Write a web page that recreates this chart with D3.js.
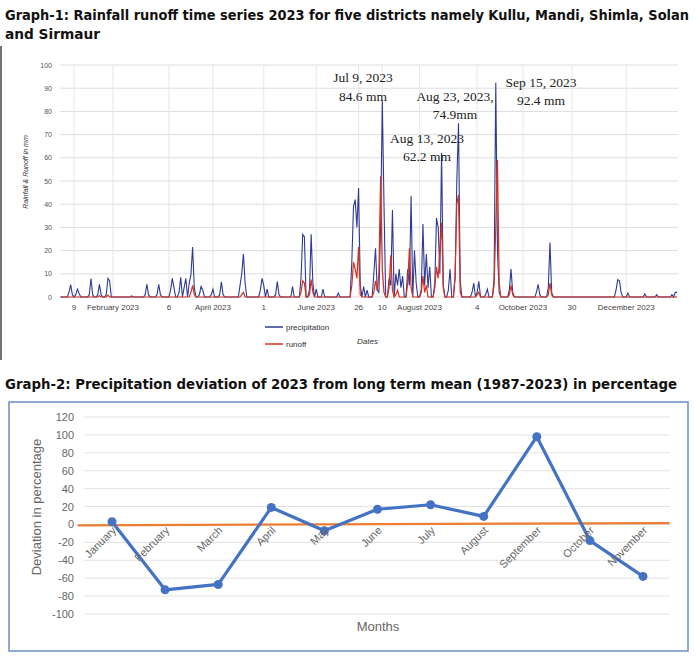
<!DOCTYPE html>
<html><head><meta charset="utf-8">
<script src="https://cdn.jsdelivr.net/npm/d3@7"></script>
<style>body{margin:0;background:#fff}svg{display:block}</style>
</head><body><svg id="c" width="697" height="659"></svg>
<script>
// ---------- Graph 1 data (day of year index 0 = Jan 1 2023; unlisted days = 0) ----------
const precipDays   = [5,6,7,9,10,11,17,18,19,22,23,24,27,28,29,42,50,51,52,57,58,59,65,66,67,70,71,73,74,76,77,78,79,82,83,84,89,90,94,95,96,106,107,108,109,118,119,120,122,127,128,129,137,142,143,144,147,148,149,151,155,164,172,173,174,175,176,177,179,181,185,186,187,188,189,190,191,194,195,196,198,199,200,201,202,205,206,207,209,210,213,214,215,216,217,218,221,222,223,224,225,226,229,230,233,234,235,236,243,244,246,247,251,252,256,257,258,259,265,266,267,281,282,283,288,289,290,328,329,330,331,335,345,352,361,363,364];
const precipVals   = [2,5.3,1,1,3.4,1.5,1,8,1,1,5.5,1,1,8,7,0.5,1,5.5,1,1,5.5,1,3,8,4,2,8.5,4,8,6,9.5,21.5,4,1,4.5,3,1,3.4,1,6.5,1,5,10,18.5,6,3,8,5,3.4,1,6.7,1,4.5,8,27,26,3,27,6,3.4,3.4,1.7,15,39,42,30,47,5,4.5,3,10,21,3,2,30,84.6,40,8,5,37.5,10,5,12,4,9,12,5,43.5,20,6,3,31.5,5,18.5,4,13,6,34,30,10,62.2,5,3,12,8,50,74.9,7,2,6,2,6.7,1,3.4,8,92.4,20,2,3,12,2,2,5.5,1,4,23.5,2,3,7.5,7,2,1.7,1.3,1,1,2,2];
const runoffDays   = [23,28,77,78,79,107,108,142,143,144,147,148,149,172,173,174,175,176,177,185,186,187,188,189,190,191,194,195,196,198,199,205,206,207,213,214,215,216,221,222,223,224,225,226,233,234,235,236,246,247,256,257,258,259,265,266,267,288,289,290];
const runoffVals   = [0.5,0.8,2,5,1,1,2,2,7,6,1,7.5,2,5,15,12,8,21.5,1,2,7,3,10,52,12,2,4,18,3,1,3,6,21,4,2,9,2,5,4,13,8,20,32,4,10,40,44,2,1,2,5,30,59,6,1,5,1,1,6,1];
const g1YTicks = [0,10,20,30,40,50,60,70,80,90,100];
const g1XTickDays = [8,31,64,90,120,151,176,190,212,246,273,302,334];
const g1XTickLabels = ["9","February 2023","6","April 2023","1","June 2023","26","10","August 2023","4","October 2023","30","December 2023"];
const annoDays = [189,224,234,257];
const annoDate = ["Jul 9, 2023","Aug 13, 2023","Aug 23, 2023,","Sep 15, 2023"];
const annoVal  = ["84.6 mm","62.2 mm","74.9mm","92.4 mm"];

// ---------- Graph 2 data ----------
const months = ["January","February","March","April","May","June","July","August","September","October","November"];
const deviation = [3,-73,-67,19,-7,17,22,9,98,-18,-58];
const meanLine = [-1,1.5]; // orange reference line, left & right ends
const g2YTicks = [120,100,80,60,40,20,0,-20,-40,-60,-80,-100];

const svg = d3.select("#c");

function fitText(sel, w){ sel.attr("textLength", w).attr("lengthAdjust","spacingAndGlyphs"); }

// Titles
svg.append("text").attr("x",5).attr("y",20).attr("font-family","DejaVu Sans Condensed, DejaVu Sans").attr("font-weight","bold").attr("font-size",14).attr("fill","#111")
  .text("Graph-1: Rainfall runoff time series 2023 for five districts namely Kullu, Mandi, Shimla, Solan").call(fitText,684);
svg.append("text").attr("x",5).attr("y",39).attr("font-family","DejaVu Sans Condensed, DejaVu Sans").attr("font-weight","bold").attr("font-size",14).attr("fill","#111")
  .text("and Sirmaur").call(fitText,95);
svg.append("text").attr("x",5).attr("y",389).attr("font-family","DejaVu Sans Condensed, DejaVu Sans").attr("font-weight","bold").attr("font-size",14).attr("fill","#111")
  .text("Graph-2: Precipitation deviation of 2023 from long term mean (1987-2023) in percentage").call(fitText,672);

// ---------- Graph 1 ----------
svg.append("line").attr("x1",1).attr("x2",1).attr("y1",46).attr("y2",360).attr("stroke","#444").attr("stroke-width",1.5);
const x1 = d3.scaleLinear().domain([0,364]).range([60.5,677]);
const y1 = d3.scaleLinear().domain([0,100]).range([297,65]);
const g1 = svg.append("g");
g1.append("g").selectAll("line").data(g1YTicks).join("line")
  .attr("x1",60).attr("x2",678).attr("y1",d=>y1(d)).attr("y2",d=>y1(d)).attr("stroke","#ddd");
g1.append("g").selectAll("line").data(g1XTickDays).join("line")
  .attr("x1",d=>x1(d)).attr("x2",d=>x1(d)).attr("y1",65).attr("y2",297).attr("stroke","#e6e6e6");
g1.append("g").selectAll("text").data(g1YTicks).join("text")
  .attr("x",52).attr("y",d=>y1(d)+2.5).attr("text-anchor","end").attr("font-family","Liberation Sans").attr("font-size",7).attr("fill","#555").text(d=>d);
g1.append("g").selectAll("text").data(g1XTickDays).join("text")
  .attr("x",d=>x1(d)).attr("y",310).attr("text-anchor","middle").attr("font-family","Liberation Sans").attr("font-size",8).attr("fill","#444").text((d,i)=>g1XTickLabels[i]);
g1.append("text").attr("transform","translate(28,172) rotate(-90)").attr("text-anchor","middle").attr("font-family","Liberation Sans").attr("font-style","italic").attr("font-size",7).attr("fill","#333").text("Rainfall & Runoff in mm");

function daily(days, vals){
  const m = new Map(days.map((d,i)=>[d,vals[i]]));
  return d3.range(0,365).map(d=>[d, m.get(d)||0]);
}
const line1 = d3.line().x(d=>x1(d[0])).y(d=>y1(d[1]));
g1.append("path").datum(daily(precipDays,precipVals)).attr("d",line1).attr("fill","none").attr("stroke","#2d3b94").attr("stroke-width",1.1);
g1.append("path").datum(daily(runoffDays,runoffVals)).attr("d",line1).attr("fill","none").attr("stroke","#d7301f").attr("stroke-width",1.2);

// annotations
const annoOff = [[-19,-104,-85],[0,-82,-64],[2,-94,-76],[44,-96,-78]];
annoDays.forEach((d,i)=>{
  const [dx,ay1,ay2]=annoOff[i];
  const v = +annoVal[i].replace(/[^0-9.]/g,"");
  const bx = x1(d)+dx, by=y1(v);
  g1.append("text").attr("x",bx).attr("y",by+ay1+104-(i==3?0:0)).attr("text-anchor","middle").attr("font-family","Liberation Serif").attr("font-size",13.5).attr("fill","#222").text(annoDate[i]);
});
// place annotation texts at fixed relative positions above peaks
g1.selectAll("text.tmp").remove();
</script>
<script>
// re-do annotations with explicit offsets relative to peak positions
(function(){
  const g = d3.select("#c");
  g.selectAll("text").filter(function(){return annoDate.includes(this.textContent);}).remove();
  const offs = [[-19,-10,8],[2,-18,0],[2,0,18],[44,-6,12]]; // dx, dy for date and value lines from peak top
  const base = [[0,-6],[0,-2],[0,-9],[0,-11]];
  annoDays.forEach((d,i)=>{
    const v = +annoVal[i].replace(/[^0-9.]/g,"");
    const px = x1(d), py = y1(v);
    const ty = [ [78,97],[139,157],[97,115],[83,101] ][i];
    const tx = [363,427,455,541][i];
    g.append("text").attr("x",tx).attr("y",ty[0]+4).attr("text-anchor","middle").attr("font-family","Liberation Serif").attr("font-size",13.5).attr("fill","#222").text(annoDate[i]);
    g.append("text").attr("x",tx).attr("y",ty[1]+4).attr("text-anchor","middle").attr("font-family","Liberation Serif").attr("font-size",13.5).attr("fill","#222").text(annoVal[i]);
  });
  // legend
  g.append("line").attr("x1",265).attr("x2",283).attr("y1",327).attr("y2",327).attr("stroke","#2d3b94").attr("stroke-width",1.5);
  g.append("text").attr("x",286).attr("y",330).attr("font-family","Liberation Sans").attr("font-size",8).attr("fill","#333").text("precipitation");
  g.append("line").attr("x1",265).attr("x2",283).attr("y1",344).attr("y2",344).attr("stroke","#d7301f").attr("stroke-width",1.5);
  g.append("text").attr("x",286).attr("y",347).attr("font-family","Liberation Sans").attr("font-size",8).attr("fill","#333").text("runoff");
  g.append("text").attr("x",357).attr("y",344).attr("font-family","Liberation Sans").attr("font-style","italic").attr("font-size",8).attr("fill","#333").text("Dates");

  // ---------- Graph 2 ----------
  g.append("rect").attr("x",9).attr("y",402).attr("width",679).attr("height",249).attr("fill","none").attr("stroke","#6b8fc4").attr("stroke-width",1.5);
  const x2 = d3.scalePoint().domain(months).range([112,643]);
  const step = x2.step();
  const y2 = d3.scaleLinear().domain([-100,120]).range([614,417]);
  g.append("g").selectAll("line").data(g2YTicks).join("line")
    .attr("x1",84).attr("x2",670).attr("y1",d=>y2(d)).attr("y2",d=>y2(d)).attr("stroke","#e3e3e3");
  g.append("g").selectAll("text").data(g2YTicks).join("text")
    .attr("x",74).attr("y",d=>y2(d)+4).attr("text-anchor","end").attr("font-family","Liberation Sans").attr("font-size",11).attr("fill","#666").text(d=>d);
  g.append("line").attr("x1",x2.range()[0]-step*0.65).attr("x2",x2.range()[1]+step*0.5)
    .attr("y1",y2(meanLine[0])).attr("y2",y2(meanLine[1])).attr("stroke","#ed7d31").attr("stroke-width",2.2);
  const line2 = d3.line().x((d,i)=>x2(months[i])).y(d=>y2(d));
  g.append("path").datum(deviation).attr("d",line2).attr("fill","none").attr("stroke","#4472c4").attr("stroke-width",3.2).attr("stroke-linejoin","round");
  g.append("g").selectAll("circle").data(deviation).join("circle")
    .attr("cx",(d,i)=>x2(months[i])).attr("cy",d=>y2(d)).attr("r",4.5).attr("fill","#4472c4");
  g.append("g").selectAll("text").data(months).join("text")
    .attr("transform",d=>`translate(${x2(d)+5},${531}) rotate(-45)`).attr("text-anchor","end")
    .attr("font-family","Liberation Sans").attr("font-size",11).attr("fill","#666").text(d=>d);
  g.append("text").attr("transform","translate(41,507) rotate(-90)").attr("text-anchor","middle").attr("font-family","Liberation Sans").attr("font-size",13).attr("fill","#666").text("Deviation in percentage");
  g.append("text").attr("x",378).attr("y",631).attr("text-anchor","middle").attr("font-family","Liberation Sans").attr("font-size",13).attr("fill","#666").text("Months");
})();
</script>
</body></html>
